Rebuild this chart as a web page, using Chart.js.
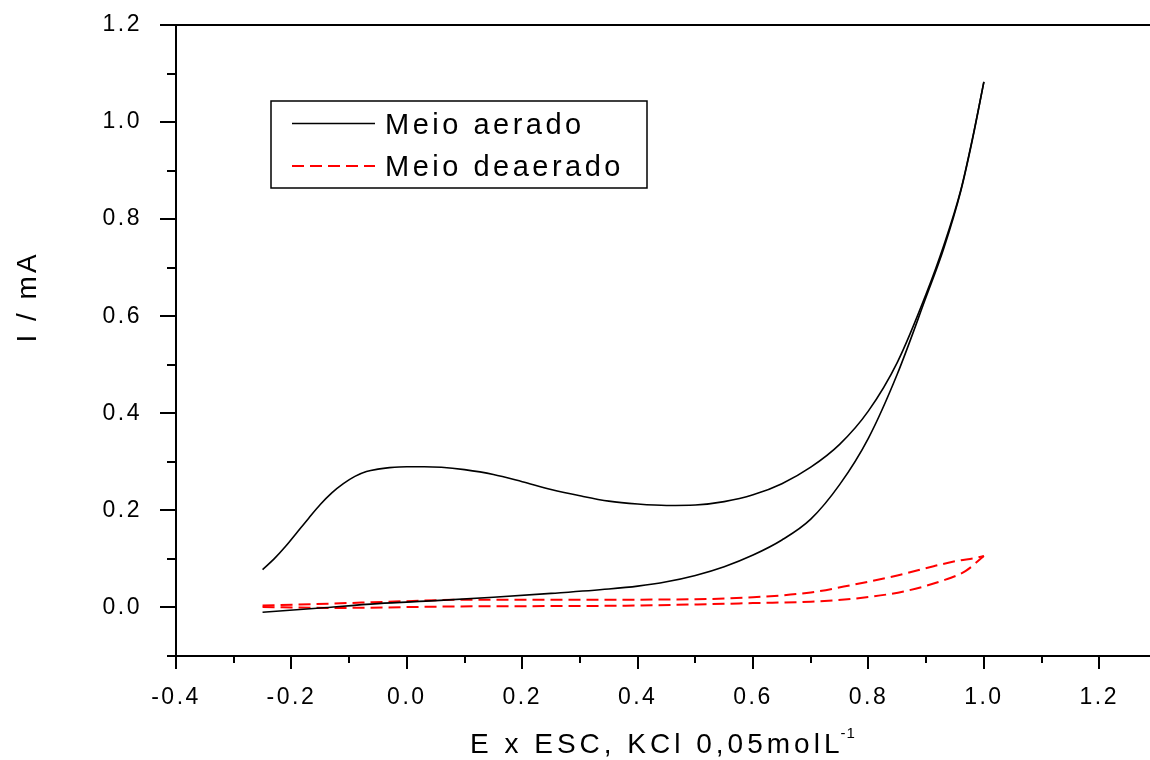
<!DOCTYPE html>
<html>
<head>
<meta charset="utf-8">
<script src="https://cdn.jsdelivr.net/npm/chart.js@4/dist/chart.umd.min.js"></script>
<style>
    html, body { margin: 0; padding: 0; background: #fff; overflow: hidden; }
    canvas { display: block; }
</style>
</head>
<body>
<canvas id="cvChart" width="1160" height="760"></canvas>
<script>
// Meio aerado - upper branch (E / V, I / mA)
var aeradoSupE = [-0.25, -0.23, -0.21, -0.19, -0.17, -0.15, -0.13, -0.11, -0.09, -0.07, -0.05, -0.03, 0.0, 0.03, 0.06, 0.1, 0.15, 0.2, 0.25, 0.3, 0.35, 0.4, 0.45, 0.5, 0.55, 0.6, 0.65, 0.7, 0.75, 0.8, 0.85, 0.9, 0.93, 0.96, 0.98, 1.0];
var aeradoSupI = [0.078, 0.100, 0.126, 0.155, 0.184, 0.212, 0.236, 0.255, 0.270, 0.280, 0.285, 0.288, 0.290, 0.290, 0.289, 0.284, 0.274, 0.259, 0.243, 0.230, 0.219, 0.213, 0.210, 0.211, 0.218, 0.232, 0.255, 0.289, 0.336, 0.405, 0.505, 0.646, 0.744, 0.860, 0.965, 1.083];
// Meio aerado - lower branch
var aeradoInfE = [-0.25, -0.15, -0.05, 0.05, 0.15, 0.25, 0.35, 0.4, 0.45, 0.5, 0.55, 0.6, 0.65, 0.7, 0.75, 0.8, 0.85, 0.9, 0.93, 0.96, 0.98, 1.0];
var aeradoInfI = [-0.010, -0.001, 0.008, 0.014, 0.021, 0.029, 0.038, 0.044, 0.053, 0.066, 0.084, 0.108, 0.139, 0.182, 0.253, 0.349, 0.481, 0.640, 0.738, 0.858, 0.963, 1.083];

// Meio deaerado - upper branch
var deaeradoSupE = [-0.25, -0.13, 0.0, 0.1, 0.3, 0.5, 0.6, 0.7, 0.77, 0.85, 0.913, 0.954, 0.985, 1.0];
var deaeradoSupI = [0.004, 0.008, 0.013, 0.016, 0.016, 0.017, 0.021, 0.031, 0.046, 0.066, 0.085, 0.096, 0.102, 0.106];
// Meio deaerado - lower branch
var deaeradoInfE = [-0.25, -0.127, 0.075, 0.4, 0.6, 0.7, 0.774, 0.861, 0.925, 0.968, 1.0];
var deaeradoInfI = [0.001, -0.001, 0.002, 0.004, 0.009, 0.012, 0.018, 0.033, 0.054, 0.075, 0.106];

var xTicks = [-0.4, -0.2, 0.0, 0.2, 0.4, 0.6, 0.8, 1.0, 1.2];
var yTicks = [0.0, 0.2, 0.4, 0.6, 0.8, 1.0, 1.2];

var FONT = "'Liberation Sans', Arial, sans-serif";

function toPoints(es, is) {
    var pts = [];
    for (let i = 0; i < es.length; i++) {
        pts.push({ x: es[i], y: is[i] });
    }
    return pts;
}

// axes drawn Origin-style: thick lines, long major / short minor ticks
var framePlugin = {
    id: 'frame',
    beforeDraw: function (chart) {
        chart.ctx.letterSpacing = '2.5px';
    },
    afterDraw: function (chart) {
        var ctx = chart.ctx;
        var a = chart.chartArea;
        var xs = chart.scales.x, ys = chart.scales.y;
        var L = Math.round(a.left), B = Math.round(a.bottom), T = Math.round(a.top);
        ctx.save();
        ctx.strokeStyle = '#000';
        ctx.lineWidth = 2;
        ctx.beginPath();
        ctx.moveTo(L, T);
        ctx.lineTo(L, B);
        ctx.moveTo(L, B);
        ctx.lineTo(chart.width, B);
        ctx.moveTo(L, T);
        ctx.lineTo(chart.width, T);
        for (let k = -4; k <= 13; k++) {
            let px = Math.round(xs.getPixelForValue(k / 10));
            let len = (k % 2 === 0) ? 13 : 7;
            ctx.moveTo(px, B);
            ctx.lineTo(px, B + len);
        }
        for (let k = -1; k <= 12; k++) {
            let py = Math.round(ys.getPixelForValue(k / 10));
            let len = (k % 2 === 0) ? 16 : 9;
            ctx.moveTo(L, py);
            ctx.lineTo(L - len, py);
        }
        ctx.stroke();

        // legend box
        ctx.lineWidth = 1.5;
        ctx.strokeRect(271, 101, 376, 87);
        ctx.beginPath();
        ctx.moveTo(292, 123.5);
        ctx.lineTo(375, 123.5);
        ctx.stroke();
        ctx.strokeStyle = '#ff0000';
        ctx.lineWidth = 2;
        ctx.setLineDash([12, 6]);
        ctx.beginPath();
        ctx.moveTo(292, 166);
        ctx.lineTo(375, 166);
        ctx.stroke();
        ctx.setLineDash([]);

        ctx.fillStyle = '#000';
        ctx.textAlign = 'left';
        ctx.textBaseline = 'alphabetic';
        ctx.letterSpacing = '3.5px';
        ctx.font = '29px ' + FONT;
        ctx.fillText('Meio aerado', 385, 134);
        ctx.fillText('Meio deaerado', 385, 176);

        // axis titles
        ctx.font = '28px ' + FONT;
        ctx.letterSpacing = '4px';
        var xt = 'E x ESC, KCl 0,05molL';
        ctx.fillText(xt, 470, 753);
        var w = ctx.measureText(xt).width;
        ctx.font = '15px ' + FONT;
        ctx.letterSpacing = '1px';
        ctx.fillText('-1', 470 + w - 3, 738);

        ctx.font = '28px ' + FONT;
        ctx.letterSpacing = '3px';
        ctx.translate(36, 297);
        ctx.rotate(-Math.PI / 2);
        ctx.textAlign = 'center';
        ctx.fillText('I / mA', 0, 0);
        ctx.restore();
    }
};

var ctx = document.getElementById('cvChart').getContext('2d');
var lineStyle = { borderColor: '#000', borderWidth: 1.6, cubicInterpolationMode: 'monotone' };
var dashStyle = { borderColor: '#ff0000', borderWidth: 2, borderDash: [12, 6], cubicInterpolationMode: 'monotone' };
var myChart = new Chart(ctx, {
    type: 'line',
    data: {
        datasets: [
            Object.assign({ label: 'Meio aerado', data: toPoints(aeradoSupE, aeradoSupI) }, lineStyle),
            Object.assign({ label: 'Meio aerado', data: toPoints(aeradoInfE, aeradoInfI) }, lineStyle),
            Object.assign({ label: 'Meio deaerado', data: toPoints(deaeradoSupE, deaeradoSupI) }, dashStyle),
            Object.assign({ label: 'Meio deaerado', data: toPoints(deaeradoInfE, deaeradoInfI) }, dashStyle)
        ]
    },
    options: {
        responsive: false,
        animation: false,
        devicePixelRatio: 1,
        events: [],
        layout: {
            padding: { left: 0, top: 25, right: 3, bottom: 0 }
        },
        elements: {
            point: { radius: 0 },
            line: { fill: false }
        },
        plugins: {
            legend: { display: false },
            tooltip: { enabled: false }
        },
        scales: {
            x: {
                type: 'linear',
                min: -0.4,
                max: 1.3,
                grid: { display: false },
                border: { display: false },
                afterBuildTicks: function (scale) {
                    scale.ticks = xTicks.map(v => ({ value: v }));
                },
                afterFit: function (scale) {
                    scale.height = 104;
                    scale.paddingLeft = 0;
                    scale.paddingRight = 0;
                },
                ticks: {
                    color: '#000',
                    padding: 20,
                    maxRotation: 0,
                    font: { family: FONT, size: 23 },
                    callback: function (val) {
                        return val.toFixed(1);
                    }
                }
            },
            y: {
                type: 'linear',
                min: -0.1,
                max: 1.2,
                grid: { display: false },
                border: { display: false },
                afterBuildTicks: function (scale) {
                    scale.ticks = yTicks.map(v => ({ value: v }));
                },
                afterFit: function (scale) {
                    scale.width = 176;
                    scale.paddingTop = 0;
                    scale.paddingBottom = 0;
                },
                ticks: {
                    color: '#000',
                    padding: 26,
                    font: { family: FONT, size: 23 },
                    callback: function (val) {
                        return val.toFixed(1);
                    }
                }
            }
        }
    },
    plugins: [framePlugin]
});
</script>
</body>
</html>
